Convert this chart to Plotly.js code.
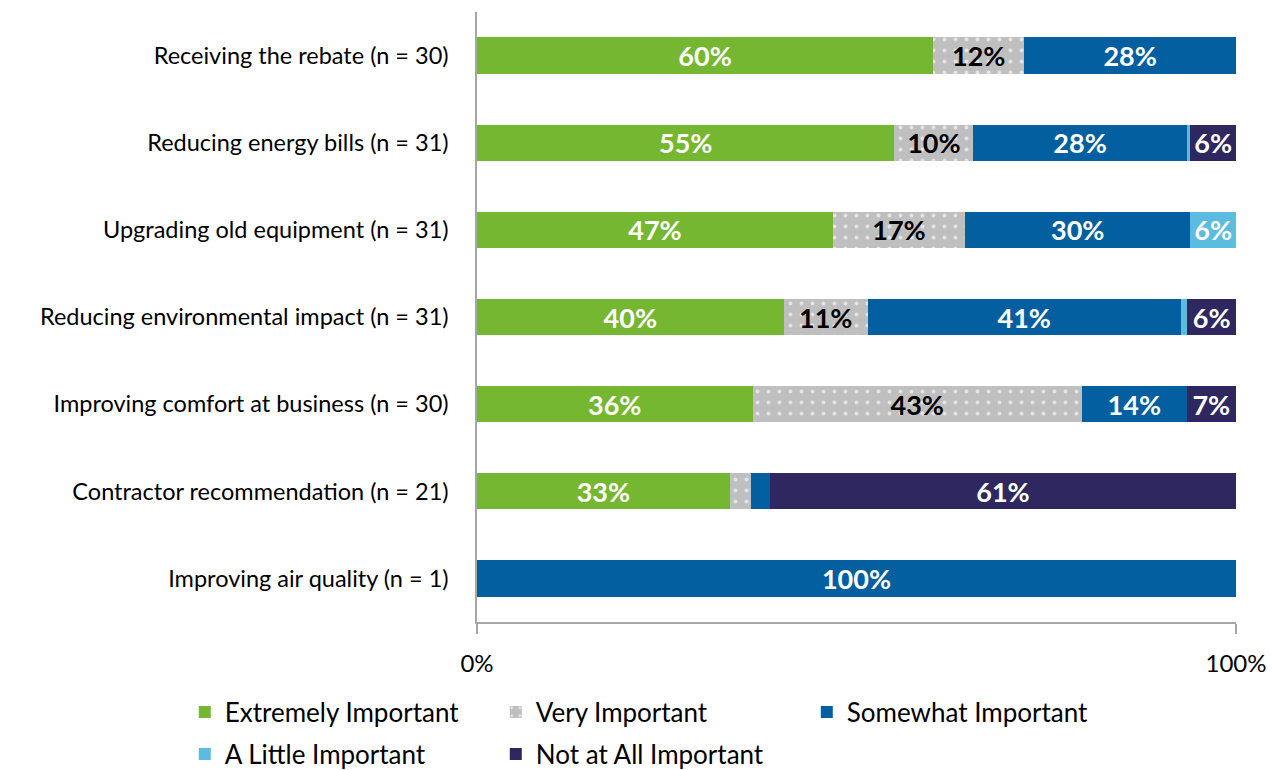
<!DOCTYPE html>
<html>
<head>
<meta charset="utf-8">
<script src="https://cdn.plot.ly/plotly-3.0.1.min.js"></script>
<style>html,body{margin:0;padding:0;background:#fff;}#chart{width:1272px;height:770px;}</style>
</head>
<body>
<div id="chart"></div>
<script>
var categories = [
  "Receiving the rebate (n = 30)",
  "Reducing energy bills (n = 31)",
  "Upgrading old equipment (n = 31)",
  "Reducing environmental impact (n = 31)",
  "Improving comfort at business (n = 30)",
  "Contractor recommendation (n = 21)",
  "Improving air quality (n = 1)"
];
var extremely = [60.1, 55.0, 46.9, 40.4, 36.3, 33.3, 0];
var very      = [12.0, 10.4, 17.4, 11.1, 43.4, 2.8, 0];
var somewhat  = [27.9, 28.1, 29.7, 41.2, 13.8, 2.5, 100];
var little    = [0, 0.5, 6.0, 0.9, 0, 0, 0];
var notAtAll  = [0, 6.0, 0, 6.4, 6.5, 61.4, 0];
var seriesNames = ["Extremely Important", "Very Important", "Somewhat Important", "A Little Important", "Not at All Important"];
var tickLabels = ['0%', '100%'];

function labels(arr){ return arr.map(function(v){ return v >= 5 ? Math.round(v) + '%' : ''; }); }

var FONT = "Lato, 'Open Sans', sans-serif";
function mk(name, vals, color, txtColor, legendId, pattern){
  var m = {color: color, line: {width: 0}};
  if (pattern) m.pattern = pattern;
  return {
    type: 'bar', orientation: 'h', name: name, legend: legendId,
    y: categories, x: vals,
    marker: m,
    text: labels(vals), textposition: 'inside', insidetextanchor: 'middle',
    textangle: 0, constraintext: 'none',
    textfont: {family: FONT, size: 27, color: txtColor, weight: 'bold'},
    hoverinfo: 'x+name'
  };
}

var data = [
  mk(seriesNames[0], extremely, '#76B731', '#ffffff', 'legend'),
  mk(seriesNames[1], very, '#BFBFBF', '#000000', 'legend', {shape: '.', fgcolor: '#E4E4E4', bgcolor: '#BFBFBF', size: 11, solidity: 0.1}),
  mk(seriesNames[2], somewhat, '#035FA0', '#ffffff', 'legend'),
  mk(seriesNames[3], little, '#5BBCE0', '#ffffff', 'legend2'),
  mk(seriesNames[4], notAtAll, '#2F2860', '#ffffff', 'legend2')
];

var legendBase = {
  orientation: 'h', x: -0.385, xanchor: 'left', yanchor: 'middle',
  entrywidth: 266, entrywidthmode: 'pixels',
  font: {size: 26, family: FONT, color: '#000000'}, itemwidth: 30, traceorder: 'normal',
  bgcolor: 'rgba(0,0,0,0)'
};

var layout = {
  width: 1272, height: 770,
  barmode: 'stack', bargap: 0.585,
  margin: {l: 477, r: 36, t: 12, b: 148, autoexpand: false},
  paper_bgcolor: '#ffffff', plot_bgcolor: '#ffffff',
  font: {family: FONT, size: 23, color: '#000000'},
  xaxis: {
    range: [0, 100], tickvals: [0, 100], ticktext: tickLabels,
    showgrid: false, zeroline: false, automargin: false,
    showline: true, linecolor: '#A6A6A6', linewidth: 1.5,
    ticks: 'outside', ticklen: 10, tickcolor: '#A6A6A6', tickwidth: 1.5,
    tickfont: {size: 24, family: FONT}, ticklabelstandoff: 9, fixedrange: true
  },
  yaxis: {
    type: 'category', autorange: 'reversed', automargin: false,
    showgrid: false, zeroline: false,
    showline: true, linecolor: '#A6A6A6', linewidth: 1.5,
    ticks: '', ticklabelstandoff: 22,
    tickfont: {size: 23.5, family: FONT}, fixedrange: true
  },
  showlegend: true,
  legend: Object.assign({}, legendBase, {y: -0.1475}),
  legend2: Object.assign({}, legendBase, {y: -0.2164})
};

Plotly.newPlot('chart', data, layout, {displayModeBar: false});
</script>
</body>
</html>
